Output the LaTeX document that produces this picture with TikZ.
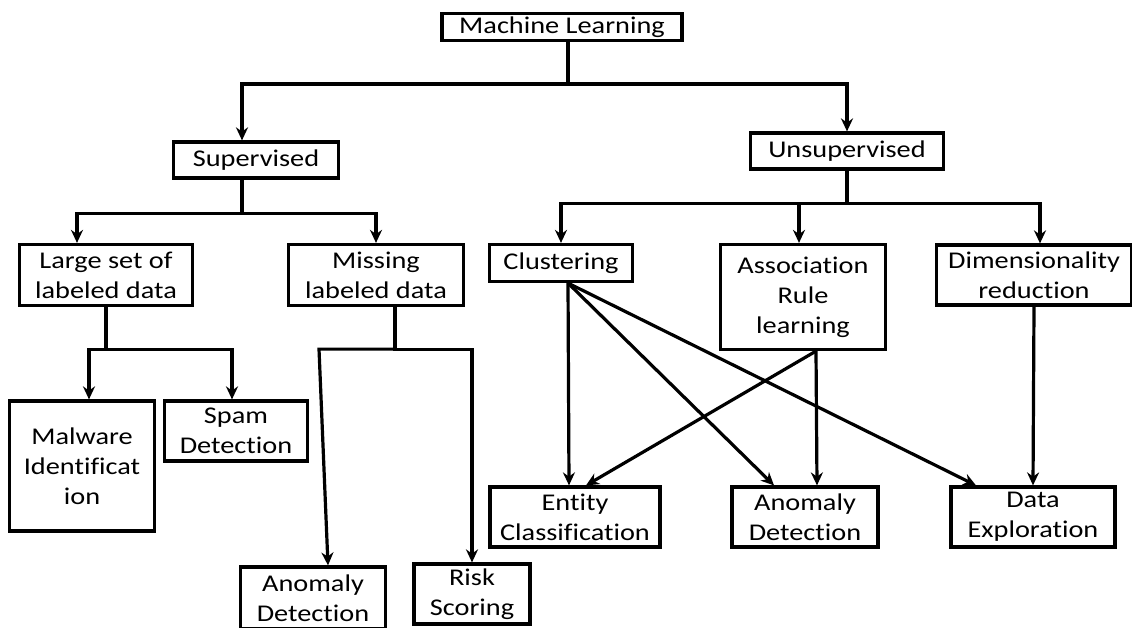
\documentclass[tikz,border=0pt]{standalone}
\usepackage{fontspec}
\setmainfont{Carlito}[FakeStretch=1.18,RawFeature={-liga;-clig;-calt;-dlig}]
\usetikzlibrary{arrows.meta}

\begin{document}
\begin{tikzpicture}[x=1pt,y=-1pt,line width=3.2pt,
                    box/.style={draw,align=center,inner sep=0pt,
                                font=\fontsize{24}{30}\selectfont},
                    arr/.style={-{Stealth[length=13pt,width=12pt]}}]
  \useasboundingbox (0,0) rectangle (1132,628);
  \node[box,minimum width=240,minimum height=27] (ml) at (562,27) {Machine Learning};
  \node[box,minimum width=165,minimum height=36] (sup) at (256,160) {Supervised};
  \node[box,minimum width=193,minimum height=36] (unsup) at (847,151) {Unsupervised};
  \node[box,minimum width=173,minimum height=61] (large) at (106,275) {Large set of\\labeled data};
  \node[box,minimum width=175,minimum height=61] (missing) at (376,275) {Missing\\labeled data};
  \node[box,minimum width=143,minimum height=37] (clust) at (561,263) {Clustering};
  \node[box,minimum width=165,minimum height=105] (assoc) at (803,297) {Association\\Rule\\learning};
  \node[box,minimum width=195,minimum height=60] (dim) at (1034,275) {Dimensionality\\reduction};
  \node[box,minimum width=145,minimum height=130] (malware) at (82,466) {Malware\\Identificat\\ion};
  \node[box,minimum width=143,minimum height=60] (spam) at (236,431) {Spam\\Detection};
  \node[box,minimum width=145,minimum height=62] (anomsup) at (313,598) {Anomaly\\Detection};
  \node[box,minimum width=116,minimum height=60] (risk) at (472,594) {Risk\\Scoring};
  \node[box,minimum width=170,minimum height=60] (entity) at (575,517) {Entity\\Classification};
  \node[box,minimum width=146,minimum height=60] (anomuns) at (805,517) {Anomaly\\Detection};
  \node[box,minimum width=164,minimum height=60] (explore) at (1033,517) {Data\\Exploration};

  \draw[arr] ([xshift=6pt]ml.south) -- ++(0,42) -| ([xshift=-14pt]sup.north);
  \draw[arr] ([xshift=6pt]ml.south) -- ++(0,42) -| (unsup.north);
  \draw[arr] ([xshift=-14pt]sup.south) -- ++(0,34) -| ([xshift=-29pt]large.north);
  \draw[arr] ([xshift=-14pt]sup.south) -- ++(0,34) -| (missing.north);
  \draw[arr] (unsup.south) -- ++(0,33) -| (clust.north);
  \draw[arr] (unsup.south) -- ++(0,33) -| ([xshift=-4pt]assoc.north);
  \draw[arr] (unsup.south) -- ++(0,33) -| ([xshift=6pt]dim.north);
  \draw[arr] (large.south) -- ++(0,42) -| ([xshift=7pt]malware.north);
  \draw[arr] (large.south) -- ++(0,42) -| ([xshift=-4pt]spam.north);
  \draw[arr] ([xshift=19pt]missing.south) -- ++(0,42) -- ++(-76,0) -- ([xshift=15pt]anomsup.north);
  \draw[arr] ([xshift=19pt]missing.south) -- ++(0,42) -| (risk.north);
  % links below the unsupervised branch
  \draw[arr] ([xshift=7pt]clust.south) -- ([xshift=-6pt]entity.north);
  \draw[arr] ([xshift=7pt]clust.south) -- ([xshift=-31pt]anomuns.north);
  \draw[arr] ([xshift=7pt]clust.south) -- ([xshift=-57pt]explore.north);
  \draw[arr] ([xshift=13pt]assoc.south) -- ([xshift=11pt]entity.north);
  \draw[arr] ([xshift=13pt]assoc.south) -- ([xshift=12pt]anomuns.north);
  \draw[arr] (dim.south) -- (explore.north);
\end{tikzpicture}
\end{document}
